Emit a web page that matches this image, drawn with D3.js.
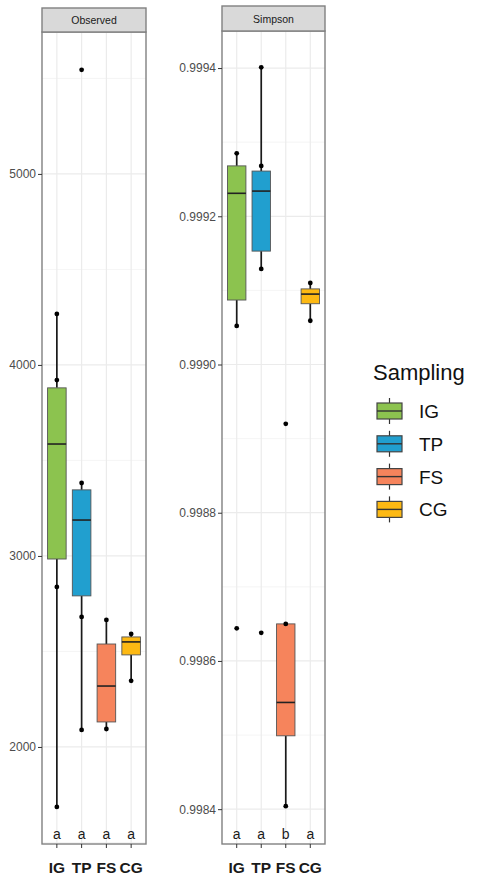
<!DOCTYPE html>
<html>
<head>
<meta charset="utf-8">
<script src="https://cdn.jsdelivr.net/npm/d3@7"></script>
<style>
  html, body { margin: 0; padding: 0; background: #fff; }
  svg { display: block; font-family: "Liberation Sans", Arial, sans-serif; }
</style>
</head>
<body>
<svg id="chart" width="484" height="878"></svg>
<script>
// Sampling groups and their fill colours
const groups = ["IG", "TP", "FS", "CG"];
const groupColors = ["#8cc34f", "#219fcf", "#f6845c", "#fdb913"];

// Observed richness: box statistics per group
const obsLow  = [1686, 2089, 2094, 2346];
const obsQ1   = [2984, 2791, 2131, 2482];
const obsMed  = [3586, 3188, 2319, 2550];
const obsQ3   = [3880, 3346, 2539, 2576];
const obsHigh = [4267, 3382, 2665, 2592];
// Observed richness: individual samples drawn as dots
const obsPoints = [
  [4267, 3921, 2838, 1686],
  [5545, 3382, 2681, 2089],
  [2665, 2094],
  [2592, 2346]
];
const obsTicks = [2000, 3000, 4000, 5000];
const obsLetters = ["a", "a", "a", "a"];

// Simpson diversity: box statistics per group
const simLow  = [0.999052, 0.999129, 0.998404, 0.999059];
const simQ1   = [0.999087, 0.999153, 0.998499, 0.999082];
const simMed  = [0.999231, 0.999234, 0.998544, 0.999095];
const simQ3   = [0.999268, 0.999261, 0.998650, 0.999102];
const simHigh = [0.999285, 0.999401, 0.998650, 0.999110];
const simPoints = [
  [0.999285, 0.999052, 0.998644],
  [0.999401, 0.999268, 0.999129, 0.998638],
  [0.998920, 0.998650, 0.998404],
  [0.999110, 0.999059]
];
const simTicks = [0.9984, 0.9986, 0.9988, 0.9990, 0.9992, 0.9994];
const simLetters = ["a", "a", "b", "a"];

const svg = d3.select("#chart");

function drawPanel(cfg) {
  const { left, right, stripTop, top, bottom, domain, ticks, fmt, title,
          low, q1, med, q3, high, points, letters } = cfg;
  const g = svg.append("g");

  const x = d3.scaleBand().domain(groups).range([left, right])
    .paddingInner(0).paddingOuter(0.1);
  const y = d3.scaleLinear().domain(domain).range([bottom, top]);
  const cx = k => x(k) + x.bandwidth() / 2;

  // panel background
  g.append("rect").attr("x", left).attr("y", top)
    .attr("width", right - left).attr("height", bottom - top).attr("fill", "#fff");

  // minor horizontal grid (halfway between major ticks)
  const step = ticks[1] - ticks[0];
  const minor = [];
  for (let v = ticks[0] - step / 2; v <= domain[1]; v += step) {
    if (v >= domain[0]) minor.push(v);
  }
  g.selectAll(".minor").data(minor).join("line")
    .attr("x1", left).attr("x2", right)
    .attr("y1", d => y(d)).attr("y2", d => y(d))
    .attr("stroke", "#f0f0f0").attr("stroke-width", 0.7);
  // major horizontal grid
  g.selectAll(".major").data(ticks).join("line")
    .attr("x1", left).attr("x2", right)
    .attr("y1", d => y(d)).attr("y2", d => y(d))
    .attr("stroke", "#ebebeb").attr("stroke-width", 1.2);
  // vertical grid at each group
  g.selectAll(".vgrid").data(groups).join("line")
    .attr("x1", d => cx(d)).attr("x2", d => cx(d))
    .attr("y1", top).attr("y2", bottom)
    .attr("stroke", "#ebebeb").attr("stroke-width", 1.2);

  const bw = x.bandwidth() * 0.75;

  groups.forEach((k, i) => {
    const c = cx(k);
    // whiskers
    g.append("line").attr("x1", c).attr("x2", c)
      .attr("y1", y(high[i])).attr("y2", y(q3[i]))
      .attr("stroke", "#1a1a1a").attr("stroke-width", 1.7);
    g.append("line").attr("x1", c).attr("x2", c)
      .attr("y1", y(q1[i])).attr("y2", y(low[i]))
      .attr("stroke", "#1a1a1a").attr("stroke-width", 1.7);
    // box
    g.append("rect").attr("x", c - bw / 2).attr("y", y(q3[i]))
      .attr("width", bw).attr("height", Math.max(1, y(q1[i]) - y(q3[i])))
      .attr("fill", groupColors[i]).attr("stroke", "#555").attr("stroke-width", 0.9);
    // median
    g.append("line").attr("x1", c - bw / 2).attr("x2", c + bw / 2)
      .attr("y1", y(med[i])).attr("y2", y(med[i]))
      .attr("stroke", "#222").attr("stroke-width", 1.6);
    // sample dots
    g.selectAll(null).data(points[i]).join("circle")
      .attr("cx", c).attr("cy", d => y(d)).attr("r", 2.4).attr("fill", "#000");
    // significance letters
    g.append("text").attr("x", c).attr("y", bottom - 5)
      .attr("text-anchor", "middle").attr("font-size", 14).attr("fill", "#1a1a1a")
      .text(letters[i]);
  });

  // panel border
  g.append("rect").attr("x", left).attr("y", top)
    .attr("width", right - left).attr("height", bottom - top)
    .attr("fill", "none").attr("stroke", "#808080").attr("stroke-width", 1.4);

  // strip
  g.append("rect").attr("x", left).attr("y", stripTop)
    .attr("width", right - left).attr("height", top - stripTop)
    .attr("fill", "#d9d9d9").attr("stroke", "#808080").attr("stroke-width", 1.4);
  g.append("text").attr("x", (left + right) / 2).attr("y", (stripTop + top) / 2 + 4)
    .attr("text-anchor", "middle").attr("font-size", 10.5).attr("fill", "#1a1a1a")
    .text(title);

  // y axis
  const ya = g.append("g").attr("transform", `translate(${left},0)`)
    .call(d3.axisLeft(y).tickValues(ticks).tickFormat(fmt).tickSize(4).tickPadding(2));
  ya.select(".domain").remove();
  ya.selectAll(".tick line").attr("stroke", "#333").attr("stroke-width", 1);
  ya.selectAll(".tick text").attr("font-size", 12).attr("fill", "#4d4d4d")
    .attr("font-family", "Liberation Sans, Arial, sans-serif");

  // x axis
  const xa = g.append("g").attr("transform", `translate(0,${bottom})`)
    .call(d3.axisBottom(x).tickSize(4).tickPadding(14));
  xa.select(".domain").remove();
  xa.selectAll(".tick line").attr("stroke", "#333").attr("stroke-width", 1);
  xa.selectAll(".tick text").attr("font-size", 15.5).attr("font-weight", "bold")
    .attr("fill", "#1a1a1a").attr("font-family", "Liberation Sans, Arial, sans-serif");
}

drawPanel({
  left: 42, right: 146, stripTop: 8, top: 32, bottom: 844,
  domain: [1492, 5743], ticks: obsTicks, fmt: d3.format("d"), title: "Observed",
  low: obsLow, q1: obsQ1, med: obsMed, q3: obsQ3, high: obsHigh,
  points: obsPoints, letters: obsLetters
});

drawPanel({
  left: 222, right: 325, stripTop: 6, top: 31, bottom: 844,
  domain: [0.998353, 0.99945], ticks: simTicks, fmt: d3.format(".4f"), title: "Simpson",
  low: simLow, q1: simQ1, med: simMed, q3: simQ3, high: simHigh,
  points: simPoints, letters: simLetters
});

// legend
const lg = svg.append("g");
lg.append("text").attr("x", 373).attr("y", 380).attr("font-size", 22)
  .attr("fill", "#111").text("Sampling");
groups.forEach((k, i) => {
  const cy = 411 + i * 32.8;
  const kx = 377, kw = 25, kh = 16;
  lg.append("line").attr("x1", kx + kw / 2).attr("x2", kx + kw / 2)
    .attr("y1", cy - 13).attr("y2", cy + 13)
    .attr("stroke", "#333").attr("stroke-width", 1.2);
  lg.append("rect").attr("x", kx).attr("y", cy - kh / 2).attr("width", kw).attr("height", kh)
    .attr("fill", groupColors[i]).attr("stroke", "#444").attr("stroke-width", 1.2);
  lg.append("line").attr("x1", kx).attr("x2", kx + kw).attr("y1", cy).attr("y2", cy)
    .attr("stroke", "#333").attr("stroke-width", 1.4);
  lg.append("text").attr("x", 419).attr("y", cy + 7).attr("font-size", 19)
    .attr("fill", "#111").text(k);
});
</script>
</body>
</html>
